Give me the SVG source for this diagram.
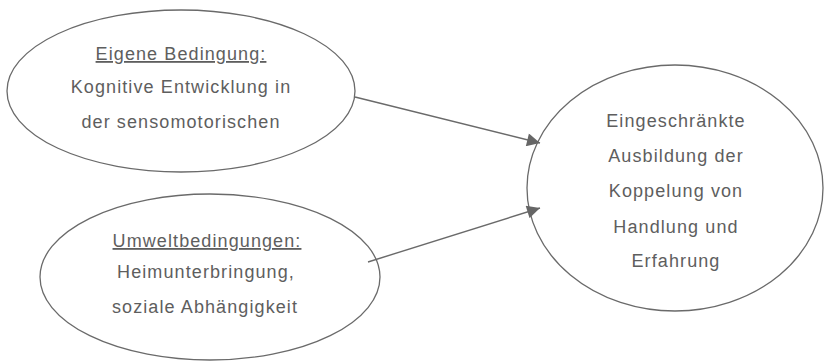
<svg xmlns="http://www.w3.org/2000/svg" width="825" height="362" viewBox="0 0 825 362">
<style>
.n ellipse{fill:none;stroke:#6a6a6a;stroke-width:1.3}
text{font-family:"Liberation Sans",Arial,sans-serif;font-size:18px;fill:#5e5e5e;text-anchor:middle;letter-spacing:1.1px}
.u{text-decoration:underline}
.c line{stroke:#6a6a6a;stroke-width:1.4}
</style>
<defs>
<marker id="ah" viewBox="0 0 10 10" refX="10" refY="5" markerWidth="16" markerHeight="13" markerUnits="userSpaceOnUse" orient="auto">
<path d="M0,0 L10,5 L0,10 Z" fill="#666"/>
</marker>
</defs>
<rect width="825" height="362" fill="#fff"/>
<g id="eigene" class="n">
<ellipse cx="181" cy="91" rx="174" ry="81"/>
<text x="181" y="60" class="u">Eigene Bedingung:</text>
<text x="181" y="93">Kognitive Entwicklung in</text>
<text x="181" y="128">der sensomotorischen</text>
</g>
<g id="umwelt" class="n">
<ellipse cx="210" cy="277" rx="170" ry="83"/>
<text x="207" y="247" class="u">Umweltbedingungen:</text>
<text x="206" y="278">Heimunterbringung,</text>
<text x="205" y="313">soziale Abhängigkeit</text>
</g>
<g id="ergebnis" class="n">
<ellipse cx="675" cy="188" rx="148" ry="123"/>
<text x="676" y="127">Eingeschränkte</text>
<text x="676" y="162">Ausbildung der</text>
<text x="676" y="197">Koppelung von</text>
<text x="676" y="233">Handlung und</text>
<text x="676" y="267">Erfahrung</text>
</g>
<g id="connectors" class="c">
<line x1="355" y1="97" x2="540" y2="143" marker-end="url(#ah)"/>
<line x1="368" y1="262" x2="540" y2="208" marker-end="url(#ah)"/>
</g>
</svg>
